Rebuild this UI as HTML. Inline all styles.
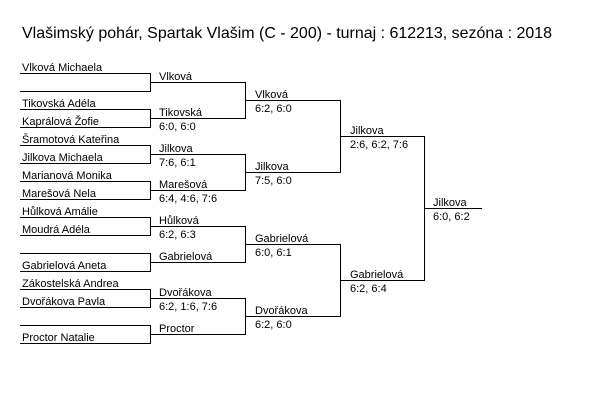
<!DOCTYPE html>
<html><head><meta charset="utf-8"><style>
html,body{margin:0;padding:0;background:#fff;width:604px;height:401px;overflow:hidden}
svg text{font-family:"Liberation Sans","DejaVu Sans",sans-serif;font-size:11px;fill:#000}
</style></head><body>
<svg width="604" height="401" viewBox="0 0 604 401" xmlns="http://www.w3.org/2000/svg">
<text x="22" y="38" style="font-size:16px" textLength="530" lengthAdjust="spacingAndGlyphs">Vlašimský pohár, Spartak Vlašim (C - 200) - turnaj : 612213, sezóna : 2018</text>
<g stroke="#000" stroke-width="1" fill="none" shape-rendering="crispEdges">
<!-- round 1 -->
<path d="M20 73.5H150.5V91.5H20"/>
<path d="M20 109.5H150.5V127.5H20"/>
<path d="M20 145.5H150.5V163.5H20"/>
<path d="M20 181.5H150.5V199.5H20"/>
<path d="M20 217.5H150.5V235.5H20"/>
<path d="M20 253.5H150.5V271.5H20"/>
<path d="M20 289.5H150.5V307.5H20"/>
<path d="M20 325.5H150.5V343.5H20"/>
<!-- round 2 -->
<path d="M150 82.5H245.5V118.5H150"/>
<path d="M150 154.5H245.5V190.5H150"/>
<path d="M150 226.5H245.5V262.5H150"/>
<path d="M150 298.5H245.5V334.5H150"/>
<!-- round 3 -->
<path d="M245 100.5H340.5V172.5H245"/>
<path d="M245 244.5H340.5V316.5H245"/>
<!-- round 4 -->
<path d="M340 136.5H424.5V280.5H340"/>
<path d="M424 208.5H482"/>
</g>
<g>
<text x="22" y="71">Vlková Michaela</text>
<text x="22" y="107">Tikovská Adéla</text>
<text x="22" y="125">Kaprálová Žofie</text>
<text x="22" y="143">Šramotová Kateřina</text>
<text x="22" y="161">Jilkova Michaela</text>
<text x="22" y="179">Marianová Monika</text>
<text x="22" y="197">Marešová Nela</text>
<text x="22" y="215">Hůlková Amálie</text>
<text x="22" y="233">Moudrá Adéla</text>
<text x="22" y="269">Gabrielová Aneta</text>
<text x="22" y="287">Zákostelská Andrea</text>
<text x="22" y="305">Dvořákova Pavla</text>
<text x="22" y="341">Proctor Natalie</text>

<text x="159" y="80">Vlková</text>
<text x="159" y="116">Tikovská</text><text x="159" y="130">6:0, 6:0</text>
<text x="159" y="152">Jilkova</text><text x="159" y="166">7:6, 6:1</text>
<text x="159" y="188">Marešová</text><text x="159" y="202">6:4, 4:6, 7:6</text>
<text x="159" y="224">Hůlková</text><text x="159" y="238">6:2, 6:3</text>
<text x="159" y="260">Gabrielová</text>
<text x="159" y="296">Dvořákova</text><text x="159" y="310">6:2, 1:6, 7:6</text>
<text x="159" y="332">Proctor</text>

<text x="255" y="98">Vlková</text><text x="255" y="112">6:2, 6:0</text>
<text x="255" y="170">Jilkova</text><text x="255" y="184">7:5, 6:0</text>
<text x="255" y="242">Gabrielová</text><text x="255" y="256">6:0, 6:1</text>
<text x="255" y="314">Dvořákova</text><text x="255" y="328">6:2, 6:0</text>

<text x="350" y="134">Jilkova</text><text x="350" y="148">2:6, 6:2, 7:6</text>
<text x="350" y="278">Gabrielová</text><text x="350" y="292">6:2, 6:4</text>

<text x="433" y="206">Jilkova</text><text x="433" y="220">6:0, 6:2</text>
</g>
</svg>
</body></html>
